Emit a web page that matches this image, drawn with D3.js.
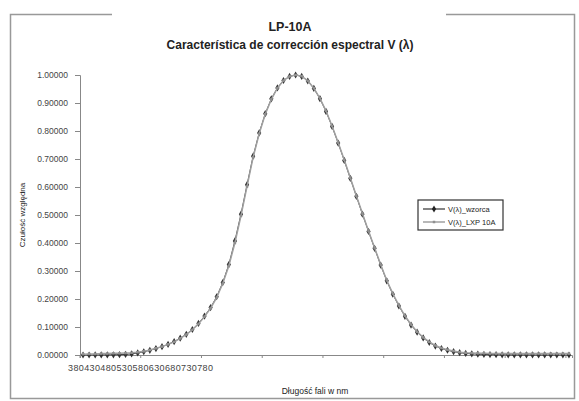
<!DOCTYPE html>
<html>
<head>
<meta charset="utf-8">
<script src="https://cdn.jsdelivr.net/npm/d3@7"></script>
<style>
  body { margin: 0; background: #fff; }
  text { font-family: "Liberation Sans", Arial, sans-serif; }
</style>
</head>
<body>
<div id="chart"></div>
<script>
// Wavelengths 380..780 nm, step 5 nm.
const wavelengths = [380,385,390,395,400,405,410,415,420,425,430,435,440,445,450,455,460,465,470,475,
  480,485,490,495,500,505,510,515,520,525,530,535,540,545,550,555,560,565,570,575,
  580,585,590,595,600,605,610,615,620,625,630,635,640,645,650,655,660,665,670,675,
  680,685,690,695,700,705,710,715,720,725,730,735,740,745,750,755,760,765,770,775,780];

// V(λ) reference curve.
const vWzorca = [0.00004,0.00006,0.00012,0.00022,0.0004,0.00064,0.00121,0.00218,0.004,0.0073,
  0.0116,0.0168,0.023,0.0298,0.038,0.048,0.06,0.0739,0.091,0.1126,
  0.139,0.1693,0.208,0.2586,0.323,0.4073,0.503,0.6082,0.71,0.7932,
  0.862,0.9149,0.954,0.9803,0.995,1.0,0.995,0.9786,0.952,0.9154,
  0.87,0.8163,0.757,0.6949,0.631,0.5668,0.503,0.4412,0.381,0.321,
  0.265,0.217,0.175,0.1382,0.107,0.0816,0.061,0.0446,0.032,0.0232,
  0.017,0.0119,0.0082,0.0057,0.0041,0.0029,0.0021,0.0015,0.001,0.0007,
  0.0005,0.0004,0.0002,0.0002,0.0001,0.0001,0.0001,0.00004,0.00003,0.00002,0.00002];

// Measured LXP 10A curve.
const vLxp = [0.003,0.004,0.004,0.005,0.005,0.006,0.006,0.007,0.008,0.01,
  0.013,0.018,0.024,0.03,0.038,0.047,0.059,0.073,0.09,0.111,
  0.137,0.167,0.205,0.255,0.318,0.4,0.497,0.602,0.706,0.79,
  0.86,0.913,0.953,0.98,0.995,1.0,0.996,0.979,0.953,0.917,
  0.872,0.818,0.759,0.697,0.633,0.569,0.505,0.443,0.383,0.323,
  0.267,0.219,0.177,0.14,0.109,0.083,0.063,0.047,0.034,0.025,
  0.019,0.014,0.01,0.008,0.007,0.006,0.006,0.005,0.005,0.005,
  0.005,0.005,0.005,0.005,0.005,0.005,0.005,0.005,0.005,0.005,0.005];

const yTicks = [0,0.1,0.2,0.3,0.4,0.5,0.6,0.7,0.8,0.9,1.0];
const xLabels = [380,430,480,530,580,630,680,730,780];
const seriesNames = ["V(λ)_wzorca", "V(λ)_LXP 10A"];

const W = 579, H = 401;
const margin = {top: 75, right: 7, bottom: 46, left: 80};
const width = W - margin.left - margin.right,
      height = H - margin.top - margin.bottom;

const svg = d3.select("#chart").append("svg")
    .attr("width", W)
    .attr("height", H);

// Outer frame (broken where the title sits).
svg.append("path")
    .attr("d", "M112,14.5 H10.5 V398.5 H574.5 V14.5 H446")
    .attr("fill", "none")
    .attr("stroke", "#999")
    .attr("stroke-width", 1.5);

// Titles.
svg.append("text")
    .attr("x", 290).attr("y", 31)
    .attr("text-anchor", "middle")
    .attr("font-size", 12.5).attr("font-weight", "bold").attr("fill", "#222")
    .text("LP-10A");
svg.append("text")
    .attr("x", 290).attr("y", 49)
    .attr("text-anchor", "middle")
    .attr("font-size", 12).attr("font-weight", "bold").attr("fill", "#222")
    .text("Característica de corrección espectral V (λ)");

const g = svg.append("g")
    .attr("transform", `translate(${margin.left},${margin.top})`);

const x = d3.scaleBand()
    .domain(wavelengths)
    .range([0, width]);

const y = d3.scaleLinear()
    .domain([0, 1])
    .range([height, 0]);

// Y axis.
const yAxis = g.append("g")
    .call(d3.axisLeft(y).tickValues(yTicks).tickSize(5).tickPadding(7)
      .tickFormat(d => d3.format(".5f")(d)));
yAxis.select(".domain").attr("stroke", "#888");
yAxis.selectAll(".tick line").attr("stroke", "#888");
yAxis.selectAll(".tick text").attr("font-size", 8.5).attr("fill", "#444")
    .attr("font-family", "'DejaVu Serif', serif");

// X axis: tick marks every 10 categories, labels crammed at the left.
const xAxis = g.append("g")
    .attr("transform", `translate(0,${height})`)
    .call(d3.axisBottom(x)
      .tickValues(wavelengths.filter((d, i) => i % 10 === 0))
      .tickSize(3).tickFormat(""));
xAxis.select(".domain").attr("stroke", "#888");
xAxis.selectAll(".tick line").attr("stroke", "#888")
    .attr("transform", `translate(${-x.bandwidth() / 2},0)`);

g.append("text")
    .attr("x", -12).attr("y", height + 16)
    .attr("font-size", 9).attr("fill", "#444")
    .attr("font-family", "'DejaVu Serif', serif")
    .attr("textLength", 145)
    .text(xLabels.join(""));

// Axis titles.
svg.append("text")
    .attr("transform", "translate(25,215) rotate(-90)")
    .attr("text-anchor", "middle")
    .attr("font-size", 8).attr("fill", "#222")
    .text("Czułość względna");
svg.append("text")
    .attr("x", 315).attr("y", 394)
    .attr("text-anchor", "middle")
    .attr("font-size", 8.5).attr("fill", "#222")
    .text("Długość fali w nm");

const cx = (d, i) => x(wavelengths[i]) + x.bandwidth() / 2;
const line = d3.line().x((d, i) => cx(d, i)).y(d => y(d));
const diamond = d3.symbol().type(d3.symbolDiamond).size(15);

// Reference series: dark line with diamond markers.
g.append("path")
    .datum(vWzorca)
    .attr("fill", "none")
    .attr("stroke", "#444")
    .attr("stroke-width", 1)
    .attr("d", line);
g.selectAll(".m1")
    .data(vWzorca)
    .join("path")
    .attr("class", "m1")
    .attr("transform", (d, i) => `translate(${cx(d, i)},${y(d)})`)
    .attr("d", diamond)
    .attr("fill", "#333");

// Measured series: gray line with small gray markers.
g.append("path")
    .datum(vLxp)
    .attr("fill", "none")
    .attr("stroke", "#a0a0a0")
    .attr("stroke-width", 1.5)
    .attr("d", line);
g.selectAll(".m2")
    .data(vLxp)
    .join("rect")
    .attr("class", "m2")
    .attr("x", (d, i) => cx(d, i) - 1.25)
    .attr("y", d => y(d) - 1.25)
    .attr("width", 2.5).attr("height", 2.5)
    .attr("fill", "#909090");

// Legend.
const legend = svg.append("g").attr("transform", "translate(418,200)");
legend.append("rect")
    .attr("width", 85).attr("height", 30)
    .attr("fill", "#fff").attr("stroke", "#333").attr("stroke-width", 1.2);
const items = legend.selectAll(".item")
    .data(seriesNames)
    .join("g")
    .attr("transform", (d, i) => `translate(5,${9 + i * 13})`);
items.append("line")
    .attr("x1", 0).attr("x2", 22)
    .attr("stroke", (d, i) => i === 0 ? "#333" : "#a0a0a0")
    .attr("stroke-width", (d, i) => i === 0 ? 1.2 : 1.5);
items.filter((d, i) => i === 0).append("path")
    .attr("transform", "translate(11,0)")
    .attr("d", diamond).attr("fill", "#222");
items.filter((d, i) => i === 1).append("rect")
    .attr("x", 9.75).attr("y", -1.25).attr("width", 2.5).attr("height", 2.5)
    .attr("fill", "#909090");
items.append("text")
    .attr("x", 25).attr("y", 3)
    .attr("font-size", 7.5).attr("fill", "#222")
    .text(d => d);
</script>
</body>
</html>
